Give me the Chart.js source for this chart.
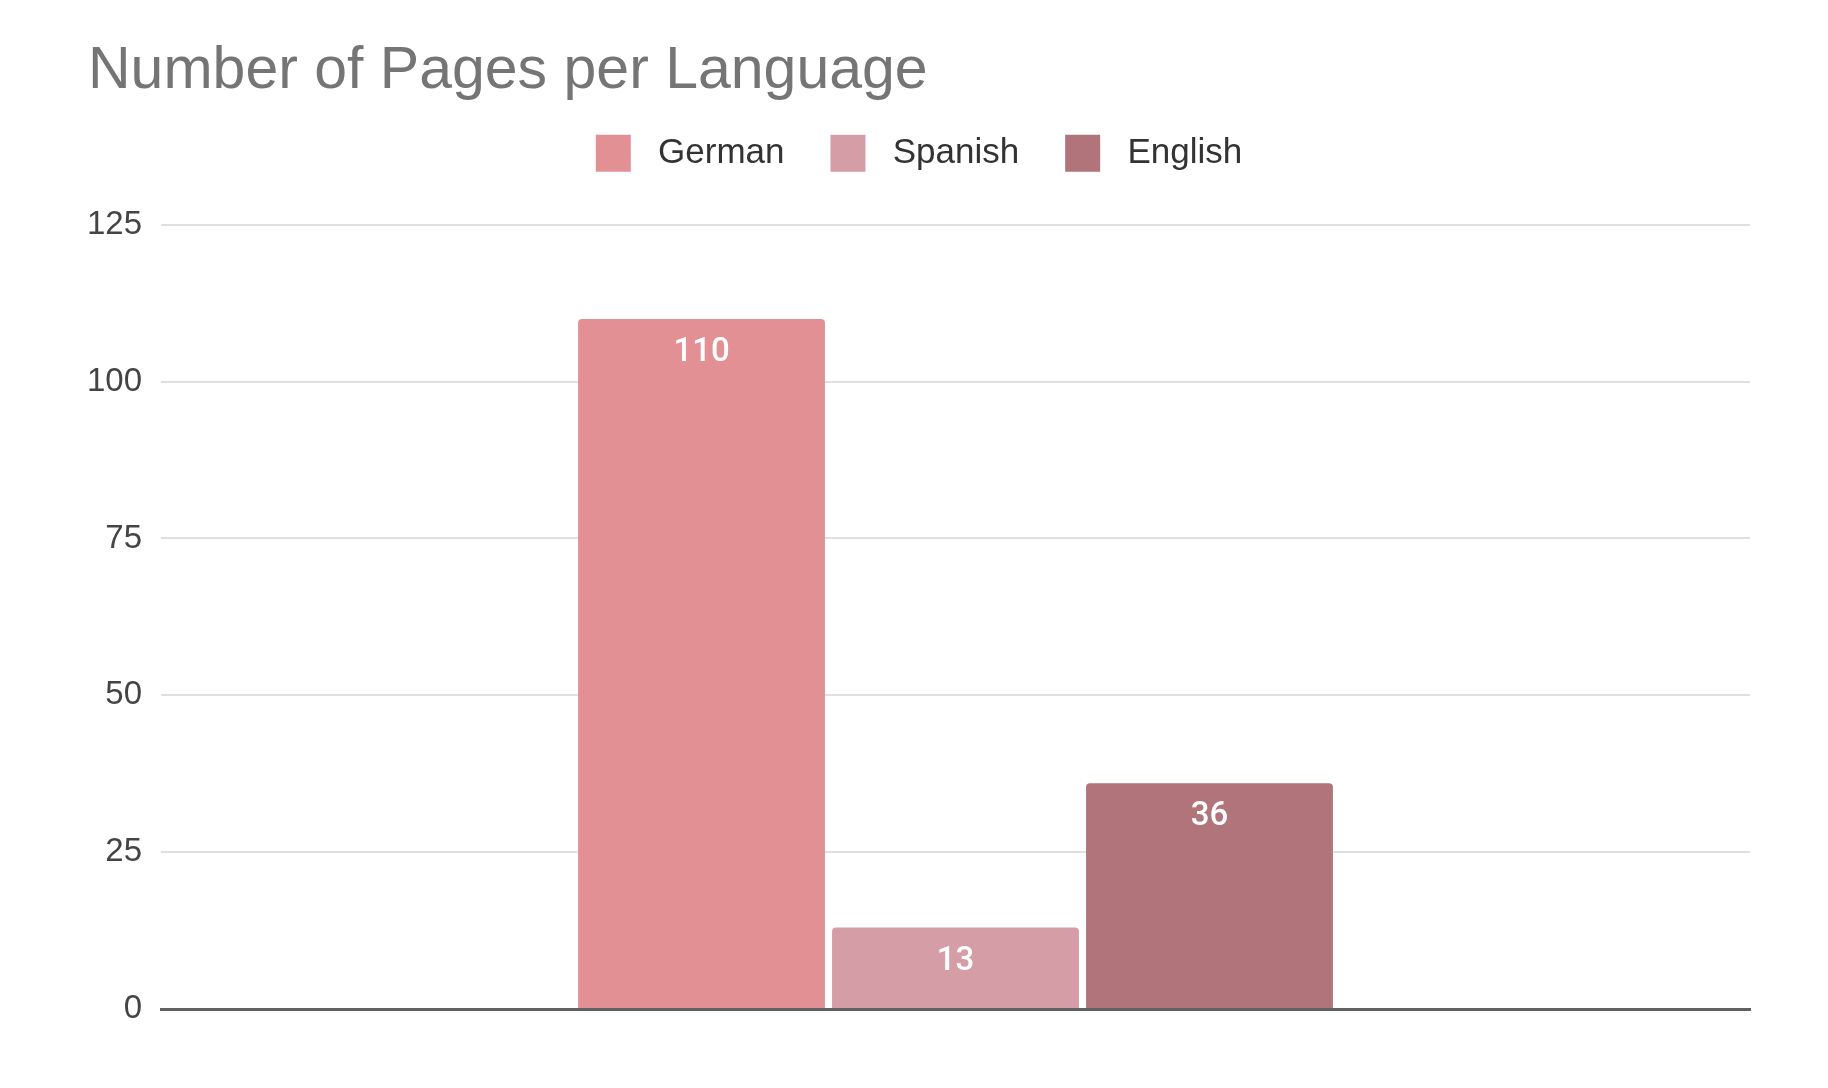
<!DOCTYPE html>
<html>
<head>
<meta charset="utf-8">
<script src="https://cdn.jsdelivr.net/npm/chart.js@4"></script>
<style>
  html, body { margin: 0; padding: 0; background: #fff; }
  #wrap { width: 1828px; height: 1088px; }
</style>
</head>
<body>
<div id="wrap"><canvas id="chart" width="1828" height="1088"></canvas></div>
<script>
const categories = [""];
const seriesNames = ["German", "Spanish", "English"];
const german = [110];
const spanish = [13];
const english = [36];
const yTicks = [0, 25, 50, 75, 100, 125];
const colors = ["#e39095", "#d59da6", "#b0747a"];

(() => {
    const $ = query => document.querySelector(query);

    const barLabels = {
        id: "barLabels",
        afterDatasetsDraw: chart => {
            const ctx = chart.ctx;
            ctx.save();
            ctx.fillStyle = "#ffffff";
            ctx.font = "500 33px Roboto";
            ctx.textAlign = "center";
            ctx.textBaseline = "middle";
            chart.data.datasets.forEach((ds, i) => {
                chart.getDatasetMeta(i).data.forEach((bar, j) => {
                    ctx.fillText(String(ds.data[j]), bar.x, bar.y + 34);
                });
            });
            ctx.restore();
        }
    };

    // give the legend some extra room underneath
    const legendSpace = {
        id: "legendSpace",
        beforeInit: chart => {
            const fit = chart.legend.fit;
            chart.legend.fit = function () {
                fit.bind(chart.legend)();
                this.height += 43;
            };
        }
    };

    const series = [german, spanish, english];
    new Chart($("#chart"), {
        type: "bar",
        data: {
            labels: categories,
            datasets: seriesNames.map((name, i) => ({
                label: name,
                data: series[i],
                backgroundColor: colors[i],
                borderRadius: { topLeft: 4, topRight: 4 },
                borderSkipped: "bottom",
                categoryPercentage: 0.4795,
                barPercentage: 0.972
            }))
        },
        options: {
            responsive: false,
            animation: false,
            devicePixelRatio: 1,
            layout: { padding: { left: 88, right: 78, top: 0, bottom: 71 } },
            plugins: {
                title: {
                    display: true,
                    text: "Number of Pages per Language",
                    align: "start",
                    color: "#757575",
                    font: { family: "'Liberation Sans', Arial", size: 59, weight: "normal" },
                    padding: { top: 36, bottom: -18 }
                },
                legend: {
                    display: true,
                    labels: {
                        boxWidth: 35,
                        boxHeight: 37,
                        padding: 46,
                        color: "#333333",
                        font: { family: "'Liberation Sans', Arial", size: 35 },
                        generateLabels: chart => Chart.defaults.plugins.legend.labels.generateLabels(chart)
                            .map(item => ({ ...item, text: " " + item.text }))
                    }
                },
                tooltip: { enabled: false }
            },
            scales: {
                x: {
                    ticks: { display: false },
                    grid: { display: false },
                    border: { display: true, color: "#616161", width: 3 }
                },
                y: {
                    min: 0,
                    max: 125,
                    afterBuildTicks: scale => { scale.ticks = yTicks.map(v => ({ value: v })); },
                    afterFit: scale => { scale.width = 73; },
                    ticks: {
                        padding: 19,
                        color: "#444444",
                        font: { family: "'Liberation Sans', Arial", size: 33 }
                    },
                    grid: { color: "#e0e0e0", lineWidth: 2, drawTicks: false },
                    border: { display: false }
                }
            }
        },
        plugins: [barLabels, legendSpace]
    });
})();
</script>
</body>
</html>
